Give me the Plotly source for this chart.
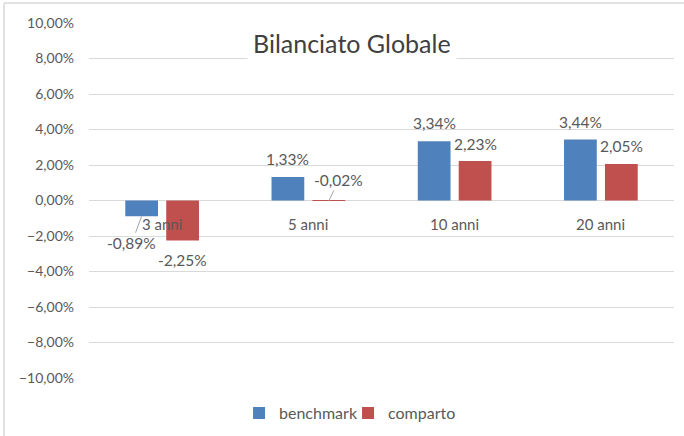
import plotly.graph_objects as go

categories = ["3 anni", "5 anni", "10 anni", "20 anni"]
benchmark = [-0.89, 1.33, 3.34, 3.44]
comparto = [-2.25, -0.02, 2.23, 2.05]
title_text = "Bilanciato Globale"
tick_vals = [-10, -8, -6, -4, -2, 0, 2, 4, 6, 8, 10]

BLUE = "#4F81BD"
RED = "#C0504D"
TXT = "#595959"
GRID = "#D9D9D9"
FONT = "Lato"

fig = go.Figure()
fig.add_trace(go.Bar(x=categories, y=[v / 100 for v in benchmark], name="benchmark",
                     marker=dict(color=BLUE, line=dict(width=0))))
fig.add_trace(go.Bar(x=categories, y=[v / 100 for v in comparto], name="comparto",
                     marker=dict(color=RED, line=dict(width=0))))

def fmt(v):
    return f"{v:.2f}".replace(".", ",") + "%"

ann = []
# category labels next to the zero line
for c in categories:
    ann.append(dict(x=c, y=0, xref="x", yref="y", text=c, showarrow=False,
                    yanchor="middle", yshift=-23, font=dict(size=15, color=TXT, family=FONT)))

# data labels
label_specs = {
    ("b", 0): dict(showarrow=True, ax=-10, ay=27),
    ("c", 0): dict(showarrow=False, yshift=-20),
    ("b", 1): dict(showarrow=False, yshift=18),
    ("c", 1): dict(showarrow=True, ax=10, ay=-21),
    ("b", 2): dict(showarrow=False, yshift=18),
    ("c", 2): dict(showarrow=False, yshift=17),
    ("b", 3): dict(showarrow=False, yshift=17),
    ("c", 3): dict(showarrow=False, yshift=18),
}
for key, vals, off in (("b", benchmark, -20.5), ("c", comparto, 20.5)):
    for i, v in enumerate(vals):
        spec = label_specs[(key, i)]
        a = dict(x=categories[i], y=v / 100, xref="x", yref="y", text=fmt(v),
                 xshift=off, font=dict(size=15.5, color=TXT, family=FONT))
        if spec.get("showarrow"):
            a.update(showarrow=True, arrowhead=0, arrowwidth=1, arrowcolor="#A6A6A6",
                     ax=spec["ax"], ay=spec["ay"], axref="pixel", ayref="pixel",
                     standoff=0, startstandoff=0)
        else:
            a.update(showarrow=False, yanchor="middle", yshift=spec["yshift"])
        ann.append(a)

# chart title with white background over gridlines
ann.append(dict(x=0.4496, y=0.943, xref="paper", yref="paper", text=title_text,
                showarrow=False, xanchor="center", yanchor="middle",
                bgcolor="white", borderpad=5,
                font=dict(size=25, color="#404040", family=FONT)))

fig.update_layout(
    width=684, height=436,
    margin=dict(l=89, r=10, t=23, b=58, autoexpand=False),
    paper_bgcolor="white", plot_bgcolor="white",
    separators=",.",
    barmode="group", bargap=0.44, bargroupgap=0.2,
    font=dict(family=FONT, size=14, color=TXT),
    showlegend=True,
    legend=dict(orientation="h", x=0.4428, xanchor="center", y=-0.099, yanchor="middle",
                font=dict(size=16, color=TXT, family=FONT), entrywidth=64,
                bgcolor="rgba(0,0,0,0)"),
    annotations=ann,
    shapes=[
        dict(type="line", xref="paper", yref="paper", x0=-0.1453, x1=-0.1453, y0=1.0563, y1=-0.25,
             line=dict(color=GRID, width=1.5)),
        dict(type="line", xref="paper", yref="paper", x0=-0.1453, x1=1.1, y0=1.0563, y1=1.0563,
             line=dict(color=GRID, width=1.5)),
    ],
)
fig.update_xaxes(showticklabels=False, showgrid=False, zeroline=False, showline=False, ticks="")
fig.update_yaxes(range=[-0.1, 0.1], tickvals=[t / 100 for t in tick_vals], tickformat=".2%",
                 showgrid=True, gridcolor=GRID, gridwidth=1, zeroline=True, zerolinecolor=GRID,
                 zerolinewidth=1, showline=False, ticks="", ticklabelstandoff=14,
                 tickfont=dict(size=14, color=TXT, family=FONT))

fig.write_html("out.html", config={"displayModeBar": False},
               post_script="document.body.style.margin='0';document.body.style.overflow='hidden';")
